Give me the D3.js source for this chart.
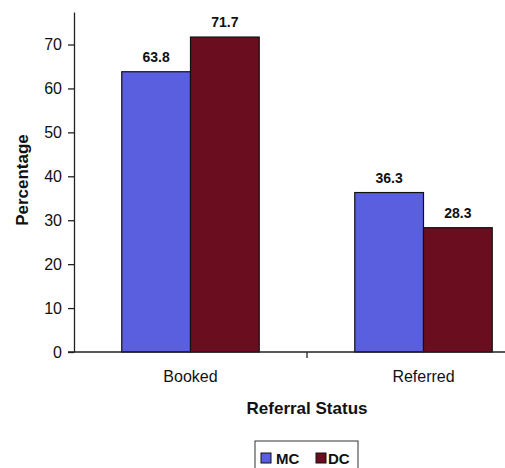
<!DOCTYPE html>
<html>
<head>
<meta charset="utf-8">
<script src="https://cdn.jsdelivr.net/npm/d3@7"></script>
<style>
  html, body { margin: 0; padding: 0; background: #fff; }
  svg { display: block; font-family: "Liberation Sans", Arial, sans-serif; }
</style>
</head>
<body>
<svg id="chart" width="505" height="468"></svg>
<script>
// Referral status by group (percentages)
const categories = ["Booked", "Referred"];
const seriesNames = ["MC", "DC"];
const mcValues = [63.8, 36.3];
const dcValues = [71.7, 28.3];
const yTicks = [0, 10, 20, 30, 40, 50, 60, 70];

const colors = { MC: "#5a5fe0", DC: "#6a0e1f" };
const rows = categories.map((c, i) => ({ cat: c, MC: mcValues[i], DC: dcValues[i] }));

const svg = d3.select("#chart");
const axisX = 74, baseY = 352, topY = 12;

const y = d3.scaleLinear().domain([0, 77.4]).range([baseY, topY]);
const x0 = d3.scaleBand().domain(categories).range([axisX, 540])
  .paddingInner(0.41).paddingOuter(0.205);
const x1 = d3.scaleBand().domain(seriesNames).range([0, x0.bandwidth()]);

// Bars
const groups = svg.append("g").selectAll("g").data(rows).join("g")
  .attr("transform", d => `translate(${x0(d.cat)},0)`);
groups.selectAll("rect").data(d => seriesNames.map(s => ({ s, v: d[s] }))).join("rect")
  .attr("x", d => x1(d.s))
  .attr("y", d => y(d.v))
  .attr("width", x1.bandwidth())
  .attr("height", d => baseY - y(d.v))
  .attr("fill", d => colors[d.s])
  .attr("stroke", "#111")
  .attr("stroke-width", 1.2);

// Value labels
groups.selectAll("text").data(d => seriesNames.map(s => ({ s, v: d[s] }))).join("text")
  .attr("x", d => x1(d.s) + x1.bandwidth() / 2)
  .attr("y", d => y(d.v) - 10)
  .attr("text-anchor", "middle")
  .attr("font-size", 14)
  .attr("font-weight", "bold")
  .attr("fill", "#111")
  .text(d => d.v.toFixed(1));

// Y axis
const yAxis = svg.append("g").attr("transform", `translate(${axisX},0)`)
  .call(d3.axisLeft(y).tickValues(yTicks).tickSize(6).tickPadding(6).tickSizeOuter(0));
yAxis.select(".domain").attr("stroke", "#222").attr("stroke-width", 1.3);
yAxis.selectAll(".tick line").attr("stroke", "#222").attr("stroke-width", 1.3);
yAxis.selectAll(".tick text").attr("font-size", 16).attr("fill", "#111")
  .attr("font-family", "Liberation Sans, Arial, sans-serif");

// X axis with ticks between categories
const xAxisG = svg.append("g");
xAxisG.append("line")
  .attr("x1", axisX - 6).attr("x2", 540)
  .attr("y1", baseY).attr("y2", baseY)
  .attr("stroke", "#222").attr("stroke-width", 1.3);
const step = x0.step();
const between = categories.slice(1).map(c => x0(c) - (step - x0.bandwidth()) / 2);
xAxisG.selectAll("line.sep").data(between).join("line")
  .attr("class", "sep")
  .attr("x1", d => d).attr("x2", d => d)
  .attr("y1", baseY).attr("y2", baseY + 6)
  .attr("stroke", "#222").attr("stroke-width", 1.3);
xAxisG.selectAll("text").data(categories).join("text")
  .attr("x", d => x0(d) + x0.bandwidth() / 2)
  .attr("y", 382)
  .attr("text-anchor", "middle")
  .attr("font-size", 16)
  .attr("fill", "#111")
  .text(d => d);

// Axis titles
svg.append("text")
  .attr("x", 307).attr("y", 414)
  .attr("text-anchor", "middle")
  .attr("font-size", 17).attr("font-weight", "bold").attr("fill", "#111")
  .text("Referral Status");
svg.append("text")
  .attr("transform", "translate(28,180) rotate(-90)")
  .attr("text-anchor", "middle")
  .attr("font-size", 17).attr("font-weight", "bold").attr("fill", "#111")
  .text("Percentage");

// Legend
const legend = svg.append("g");
legend.append("rect")
  .attr("x", 255).attr("y", 441).attr("width", 103).attr("height", 34)
  .attr("fill", "#fff").attr("stroke", "#333").attr("stroke-width", 1);
const legendItems = [
  { s: "MC", sx: 261, tx: 276 },
  { s: "DC", sx: 316, tx: 328 }
];
legend.selectAll("rect.key").data(legendItems).join("rect")
  .attr("class", "key")
  .attr("x", d => d.sx).attr("y", 453).attr("width", 10).attr("height", 10)
  .attr("fill", d => colors[d.s]).attr("stroke", "#111").attr("stroke-width", 1);
legend.selectAll("text").data(legendItems).join("text")
  .attr("x", d => d.tx).attr("y", 464)
  .attr("font-size", 15).attr("font-weight", "bold").attr("fill", "#111")
  .text(d => d.s);
</script>
</body>
</html>
